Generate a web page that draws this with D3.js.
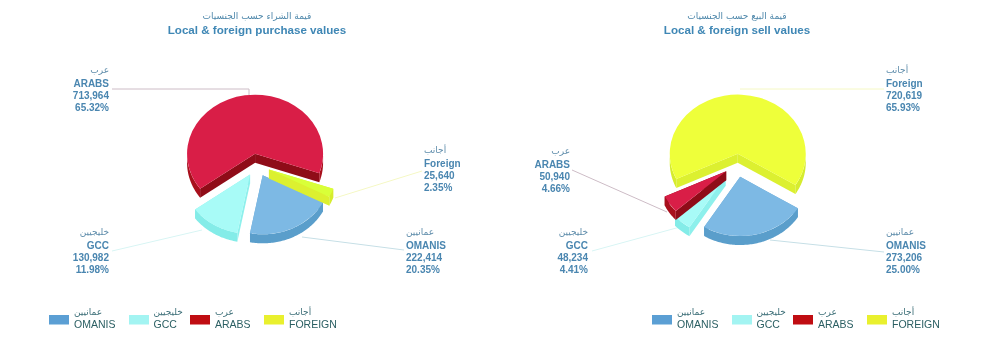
<!DOCTYPE html>
<html>
<head>
<meta charset="utf-8">
<script src="https://cdn.jsdelivr.net/npm/d3@7"></script>
<style>
  html, body { margin: 0; background: #fff; }
  svg { display: block; filter: blur(0.4px); }
  text { font-family: "Liberation Sans", Arial, sans-serif; }
  .ar { font-family: "DejaVu Sans", sans-serif; }
</style>
</head>
<body>
<div id="chart"></div>
<script>
// Kategorien und Werte
const categories = ["OMANIS", "GCC", "ARABS", "FOREIGN"];
const arabicNames = ["عمانيين", "خليجيين", "عرب", "أجانب"];
const calloutNames = ["OMANIS", "GCC", "ARABS", "Foreign"];
const purchaseValues = [222414, 130982, 713964, 25640];
const purchaseShares = ["20.35%", "11.98%", "65.32%", "2.35%"];
const sellValues = [273206, 48234, 50940, 720619];
const sellShares = ["25.00%", "4.41%", "4.66%", "65.93%"];

const topColors = ["#7db9e4", "#a8fbf7", "#d91e47", "#eeff3a"];
const rimColors = ["#5a9ecb", "#84ece8", "#a80f1c", "#d6ec2e"];
const faceColors = ["#6aa9d6", "#8ef0ec", "#8f0c18", "#dcf030"];
const legendColors = ["#5b9fd4", "#a3f4f2", "#c00d12", "#e9f02e"];
const lineColors = ["#c6dfe6", "#d8f5f4", "#cdbcc6", "#f5f8c4"];

const width = 1000, height = 364;
const radius = 68, tilt = 0.87, depth = 9;

const svg = d3.select("#chart").append("svg")
    .attr("width", width)
    .attr("height", height);

const charts = [
    {
        cx: 257, cy: 165, start: 117.5,
        values: purchaseValues, shares: purchaseShares,
        order: [2, 0, 1, 3],
        explode: [13, 13, 13, 13],
        top: ["#7db9e4", "#a8fbf7", "#d91e47", "#d9ff38"],
        titleAr: "قيمة الشراء حسب الجنسيات",
        titleEn: "Local & foreign purchase values",
        // Beschriftung: x, Anker, y der ersten Zeile, Linie von / nach
        callouts: [
            { x: 406, anchor: "start", y: 232, line: [[302, 237], [404, 250]] },
            { x: 109, anchor: "end", y: 232, line: [[112, 251], [202, 230]] },
            { x: 109, anchor: "end", y: 70, line: [[112, 89], [249, 89], [249, 95]] },
            { x: 424, anchor: "start", y: 150, line: [[335, 198], [422, 171]] }
        ],
        legendX: 0
    },
    {
        cx: 737, cy: 165, start: 122,
        values: sellValues, shares: sellShares,
        order: [3, 0, 1, 2],
        explode: [14, 18, 13, 13],
        top: topColors,
        titleAr: "قيمة البيع حسب الجنسيات",
        titleEn: "Local & foreign sell values",
        callouts: [
            { x: 886, anchor: "start", y: 232, line: [[770, 240], [884, 252]] },
            { x: 588, anchor: "end", y: 232, line: [[592, 251], [680, 227]] },
            { x: 570, anchor: "end", y: 151, line: [[572, 170], [667, 212]] },
            { x: 886, anchor: "start", y: 70, line: [[740, 89], [884, 89]] }
        ],
        legendX: 603
    }
];

const format = d3.format(",");
const blue = "#4a86b0";

function rim(a, r) {
    return [r * Math.sin(a), -r * Math.cos(a) * tilt];
}

function drawPie(chart) {
    const g = svg.append("g");

    // Titel
    g.append("text").attr("class", "ar")
        .attr("x", chart.cx).attr("y", 19)
        .attr("text-anchor", "middle")
        .attr("font-size", 9).attr("fill", "#4f88ab")
        .text(chart.titleAr);
    g.append("text")
        .attr("x", chart.cx).attr("y", 33.5)
        .attr("text-anchor", "middle")
        .attr("font-size", 11.6).attr("font-weight", "bold").attr("fill", "#3f87b5")
        .text(chart.titleEn);

    const startAngle = chart.start * Math.PI / 180;
    const slices = d3.pie().sort(null)
        .startAngle(startAngle)
        .endAngle(startAngle + 2 * Math.PI)(chart.values);

    // Linien zu den Beschriftungen
    chart.callouts.forEach((c, i) => {
        g.append("path")
            .attr("d", d3.line()(c.line))
            .attr("fill", "none")
            .attr("stroke", lineColors[i]);
    });

    const arc = d3.arc().innerRadius(0).outerRadius(radius);

    chart.order.forEach(i => {
        const s = slices[i];
        const mid = (s.startAngle + s.endAngle) / 2;
        const [dx, dy] = rim(mid, chart.explode[i]);
        const slice = g.append("g")
            .attr("transform", `translate(${chart.cx + dx}, ${chart.cy + dy})`);

        // Schnittflächen
        [s.startAngle, s.endAngle].forEach(a => {
            const [x, y] = rim(a, radius);
            slice.append("path")
                .attr("d", d3.line()([[0, 0], [x, y], [x, y + depth], [0, depth]]))
                .attr("fill", faceColors[i]);
        });

        // Außenwand, nur der vordere Teil
        const steps = d3.range(s.startAngle, s.endAngle, 0.02).concat(s.endAngle);
        slice.append("path")
            .attr("d", d3.area()
                .defined(a => Math.cos(a) <= 0.02)
                .x(a => rim(a, radius)[0])
                .y0(a => rim(a, radius)[1])
                .y1(a => rim(a, radius)[1] + depth)(steps))
            .attr("fill", rimColors[i]);

        // Deckfläche
        slice.append("path")
            .attr("transform", `scale(1, ${tilt})`)
            .attr("d", arc(s))
            .attr("fill", chart.top[i]);
    });

    // Beschriftungen
    chart.callouts.forEach((c, i) => {
        const lines = [calloutNames[i], format(chart.values[i]), chart.shares[i]];
        g.append("text").attr("class", "ar")
            .attr("x", c.x).attr("y", c.y + 3)
            .attr("text-anchor", c.anchor)
            .attr("font-size", 9).attr("fill", "#5f8dab")
            .text(arabicNames[i]);
        lines.forEach((t, k) => {
            g.append("text")
                .attr("x", c.x).attr("y", c.y + 17 + k * 12)
                .attr("text-anchor", c.anchor)
                .attr("font-size", 10).attr("font-weight", "bold").attr("fill", blue)
                .text(t);
        });
    });

    // Legende
    const swatchX = [49, 129, 190, 264];
    const labelX = [74, 153.5, 215, 289];
    const legend = g.append("g").attr("transform", `translate(${chart.legendX}, 0)`);
    categories.forEach((name, i) => {
        legend.append("rect")
            .attr("x", swatchX[i]).attr("y", 315)
            .attr("width", 20).attr("height", 9.5)
            .attr("fill", legendColors[i]);
        legend.append("text").attr("class", "ar")
            .attr("x", labelX[i]).attr("y", 315)
            .attr("font-size", 9).attr("fill", "#3d6f78")
            .text(arabicNames[i]);
        legend.append("text")
            .attr("x", labelX[i]).attr("y", 328)
            .attr("font-size", 10.5).attr("fill", "#2b5f63")
            .text(name);
    });
}

charts.forEach(drawPie);
</script>
</body>
</html>
